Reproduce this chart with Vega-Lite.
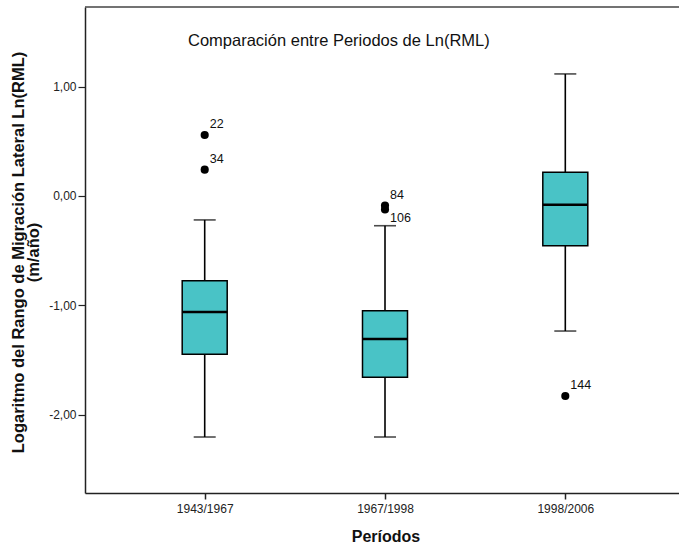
{
  "$schema": "https://vega.github.io/schema/vega-lite/v6.json",
  "autosize": "none",
  "width": 594,
  "height": 486,
  "padding": {"left": 85, "top": 7, "right": 0, "bottom": 54},
  "background": "white",
  "config": {
    "view": {"stroke": null},
    "font": "Liberation Sans"
  },
  "title": {
    "text": "Comparación entre Periodos de Ln(RML)",
    "anchor": "start",
    "frame": "group",
    "orient": "top",
    "offset": 0,
    "dx": 103,
    "dy": 56,
    "baseline": "alphabetic",
    "fontSize": 16.5,
    "fontWeight": "normal",
    "font": "Liberation Sans",
    "color": "#111"
  },
  "datasets": {
    "boxes": [
      {"periodo": "1943/1967", "p": 1, "lo": -2.204, "q1": -1.448, "med": -1.061, "q3": -0.775, "hi": -0.219},
      {"periodo": "1967/1998", "p": 2, "lo": -2.204, "q1": -1.658, "med": -1.308, "q3": -1.049, "hi": -0.272},
      {"periodo": "1998/2006", "p": 3, "lo": -1.235, "q1": -0.4545, "med": -0.0796, "q3": 0.217, "hi": 1.116}
    ],
    "outliers": [
      {"periodo": "1943/1967", "p": 1, "v": 0.558, "id": "22"},
      {"periodo": "1943/1967", "p": 1, "v": 0.2405, "id": "34"},
      {"periodo": "1967/1998", "p": 2, "v": -0.087, "id": "84"},
      {"periodo": "1967/1998", "p": 2, "v": -0.123, "id": "106"},
      {"periodo": "1998/2006", "p": 3, "v": -1.829, "id": "144"}
    ],
    "frame": [{"top": 1.728}]
  },
  "layer": [
    {
      "data": {"name": "frame"},
      "mark": {"type": "rule", "color": "#444", "strokeWidth": 1.5},
      "encoding": {
        "y": {"field": "top", "type": "quantitative", "scale": {"domain": [-2.716, 1.728], "nice": false, "zero": false, "padding": 0}}
      }
    },
    {
      "data": {"name": "boxes"},
      "mark": {"type": "rule", "color": "black", "strokeWidth": 1.6},
      "encoding": {
        "x": {"field": "p", "type": "quantitative",
          "scale": {"domain": [0.3361, 3.6306], "nice": false, "zero": false, "padding": 0},
          "axis": {
            "values": [1, 2, 3],
            "labelExpr": "datum.value == 1 ? '1943/1967' : datum.value == 2 ? '1967/1998' : '1998/2006'",
            "grid": false,
            "title": "Períodos",
            "titleFontSize": 16,
            "titleFontWeight": "bold",
            "titleColor": "#111",
            "titleX": 300.5,
            "titleY": 48,
            "titleBaseline": "alphabetic",
            "titleAnchor": null,
            "labelFontSize": 12,
            "labelColor": "#222",
            "labelPadding": 4,
            "labelFlush": false,
            "labelOverlap": false,
            "tickSize": 6,
            "tickColor": "#222",
            "tickWidth": 1.5,
            "domainColor": "#222",
            "domainWidth": 1.5
          }
        },
        "y": {"field": "lo", "type": "quantitative",
          "scale": {"domain": [-2.716, 1.728], "nice": false, "zero": false, "padding": 0},
          "axis": {
            "values": [-2, -1, 0, 1],
            "labelExpr": "(datum.value < 0 ? '-' : '') + replace(format(abs(datum.value), '.2f'), '.', ',')",
            "grid": false,
            "title": ["Logaritmo del Rango de Migración Lateral Ln(RML)", "(m/año)"],
            "titleFontSize": 16.5,
            "titleFontWeight": "bold",
            "titleColor": "#111",
            "titleLineHeight": 15.5,
            "titleX": -62,
            "titleY": 245,
            "titleBaseline": "alphabetic",
            "titleAngle": -90,
            "titleAnchor": null,
            "labelFontSize": 12,
            "labelColor": "#222",
            "labelPadding": 2,
            "labelFlush": false,
            "tickSize": 7,
            "tickColor": "#222",
            "tickWidth": 1.2,
            "domainColor": "#222",
            "domainWidth": 1.5
          }
        },
        "y2": {"field": "hi"}
      }
    },
    {
      "data": {"name": "boxes"},
      "mark": {"type": "tick", "orient": "horizontal", "color": "black", "size": 22, "thickness": 1.6},
      "encoding": {
        "x": {"field": "p", "type": "quantitative"},
        "y": {"field": "lo", "type": "quantitative"}
      }
    },
    {
      "data": {"name": "boxes"},
      "mark": {"type": "tick", "orient": "horizontal", "color": "black", "size": 22, "thickness": 1.6},
      "encoding": {
        "x": {"field": "p", "type": "quantitative"},
        "y": {"field": "hi", "type": "quantitative"}
      }
    },
    {
      "data": {"name": "boxes"},
      "mark": {"type": "bar", "size": 45, "fill": "#49c3c6", "stroke": "black", "strokeWidth": 1.5},
      "encoding": {
        "x": {"field": "p", "type": "quantitative"},
        "y": {"field": "q1", "type": "quantitative"},
        "y2": {"field": "q3"}
      }
    },
    {
      "data": {"name": "boxes"},
      "mark": {"type": "tick", "orient": "horizontal", "color": "black", "opacity": 1, "size": 45, "thickness": 2.6},
      "encoding": {
        "x": {"field": "p", "type": "quantitative"},
        "y": {"field": "med", "type": "quantitative"}
      }
    },
    {
      "data": {"name": "outliers"},
      "mark": {"type": "point", "shape": "circle", "filled": true, "color": "black", "opacity": 1, "size": 66},
      "encoding": {
        "x": {"field": "p", "type": "quantitative"},
        "y": {"field": "v", "type": "quantitative"}
      }
    },
    {
      "data": {"name": "outliers"},
      "transform": [{"filter": "datum.id != '106'"}],
      "mark": {"type": "text", "align": "left", "baseline": "middle", "dx": 5, "dy": -10.5, "fontSize": 12.5, "color": "#111"},
      "encoding": {
        "x": {"field": "p", "type": "quantitative"},
        "y": {"field": "v", "type": "quantitative"},
        "text": {"field": "id"}
      }
    },
    {
      "data": {"name": "outliers"},
      "transform": [{"filter": "datum.id == '106'"}],
      "mark": {"type": "text", "align": "left", "baseline": "middle", "dx": 5, "dy": 8.5, "fontSize": 12.5, "color": "#111"},
      "encoding": {
        "x": {"field": "p", "type": "quantitative"},
        "y": {"field": "v", "type": "quantitative"},
        "text": {"field": "id"}
      }
    }
  ]
}
